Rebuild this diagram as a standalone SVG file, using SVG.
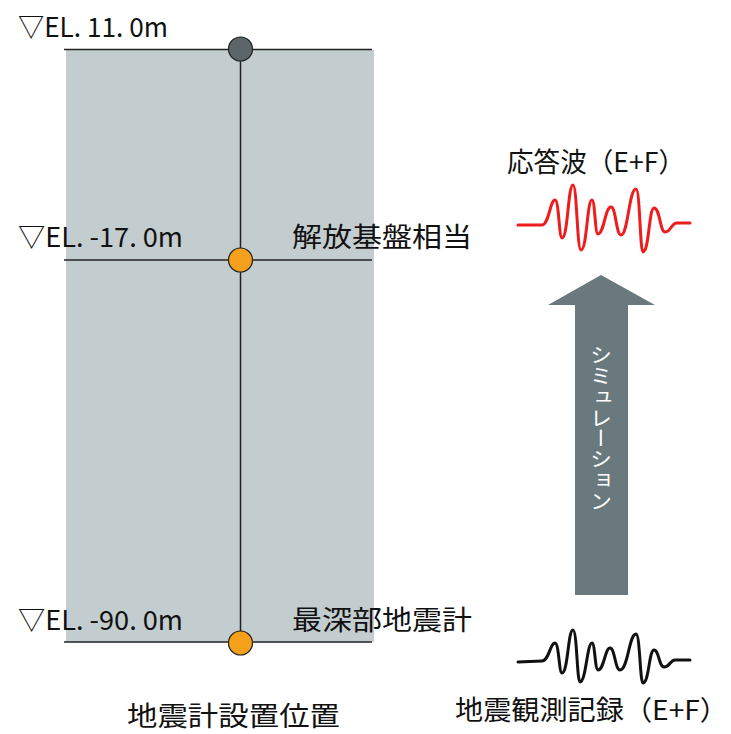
<svg xmlns="http://www.w3.org/2000/svg" width="731" height="734" viewBox="0 0 731 734">
<style>
.t{font-family:"Noto Sans CJK JP","Noto Sans",sans-serif;fill:#111;}
.el{font-size:27px;}
.jp{font-size:27px;}
.ln{stroke:#222;stroke-width:1.5;fill:none;}
.dot{stroke:#222;stroke-width:1.2;}
.wave{fill:none;stroke-width:3;stroke-linecap:round;stroke-linejoin:round;}
</style>
<rect width="731" height="734" fill="#fff"/>
<g id="ground">
<rect x="66" y="50" width="308" height="592" fill="#c3cccf"/>
</g>
<g id="connectors">
<line class="ln" x1="64" y1="49.5" x2="372" y2="49.5"/>
<line class="ln" x1="64" y1="260" x2="372" y2="260"/>
<line class="ln" x1="64" y1="642" x2="372" y2="642"/>
<line class="ln" x1="240.5" y1="49" x2="240.5" y2="642"/>
</g>
<g id="node-top">
<circle class="dot" cx="240.5" cy="49" r="12" fill="#5c666a"/>
<text class="t el" x="18" y="37" textLength="150" lengthAdjust="spacingAndGlyphs">▽EL. 11. 0m</text>
</g>
<g id="node-mid">
<circle class="dot" cx="240.5" cy="260" r="12" fill="#f5a01a"/>
<text class="t el" x="18" y="247" textLength="165" lengthAdjust="spacingAndGlyphs">▽EL. -17. 0m</text>
<text class="t jp" x="292" y="247" textLength="180" lengthAdjust="spacingAndGlyphs">解放基盤相当</text>
</g>
<g id="node-bottom">
<circle class="dot" cx="240.5" cy="643" r="12" fill="#f5a01a"/>
<text class="t el" x="18" y="630" textLength="165" lengthAdjust="spacingAndGlyphs">▽EL. -90. 0m</text>
<text class="t jp" x="292" y="630" textLength="180" lengthAdjust="spacingAndGlyphs">最深部地震計</text>
</g>
<g id="caption">
<text class="t jp" x="127" y="726" textLength="213" lengthAdjust="spacingAndGlyphs">地震計設置位置</text>
</g>
<g id="response">
<text class="t jp" x="507" y="172" textLength="178" lengthAdjust="spacingAndGlyphs">応答波（E+F）</text>
<path class="wave" stroke="#ee1c1c" stroke-width="3.3" d="M518,225 L542,225 C549,225 550,200 555,200 C559,200 559,238 562,238 C568,238 568,185 573,185 C577,185 577,250 581,250 C587,250 587,200 592,200 C595,200 595,234 598,234 C604,234 605,207 611,207 C616,207 616,235 621,235 C628,235 629,189 636,189 C640,189 640,252 643,252 C649,252 649,208 654,208 C660,208 660,232 665,232 C671,232 671,223 677,223 L690,223"/>
</g>
<g id="record">
<path class="wave" stroke="#111" d="M518,662 L542,661 C549,661 550,643 555,643 C559,643 559,673 562,673 C568,673 568,630 573,630 C577,630 577,682 580,682 C586,682 587,643 592,643 C595,643 595,670 598,670 C604,670 605,648 610,648 C615,648 615,670 620,670 C628,670 629,634 636,634 C640,634 640,683 643,683 C649,683 649,650 654,650 C659,650 659,667 664,667 C670,667 670,660 675,660 L690,660"/>
<text class="t jp" x="455" y="720" textLength="273" lengthAdjust="spacingAndGlyphs">地震観測記録（E+F）</text>
</g>
<g id="simulation">
<polygon points="575,595 628,595 628,305 655,305 601,275 548,305 575,305" fill="#69797e"/>
<text class="t" x="601" y="345" font-size="22" fill="#fff" style="writing-mode:vertical-rl;fill:#fff" textLength="166" lengthAdjust="spacingAndGlyphs">シミュレーション</text>
</g>
</svg>
